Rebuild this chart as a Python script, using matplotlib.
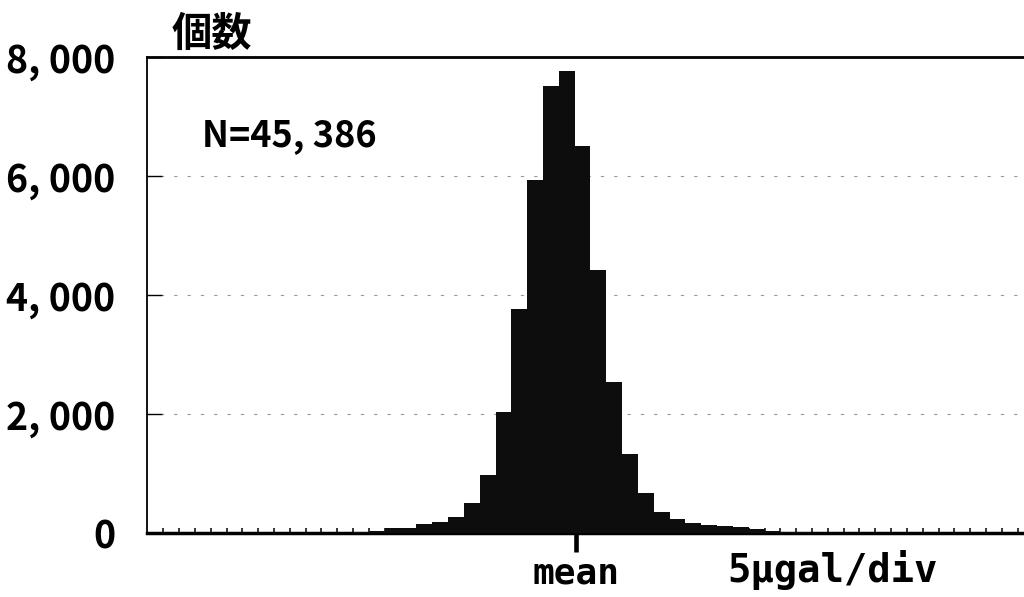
import numpy as np
import matplotlib
matplotlib.use("Agg")
import matplotlib.pyplot as plt

plt.rcParams['font.family'] = ['Noto Sans CJK JP', 'DejaVu Sans']
plt.rcParams['font.weight'] = 'bold'

# histogram of residuals, 5 ugal per bin, bin index counted from left edge of axis
first_bin = 13
counts = [20, 35, 85, 90, 150, 180, 265, 510, 970, 2030, 3760, 5930,
          7520, 7760, 6500, 4420, 2530, 1330, 670, 360, 230, 170, 135,
          120, 95, 60, 40, 25, 15]
n_total = 45386
mean_pos = 27.09
n_div = 55.4

y_ticks = [0, 2000, 4000, 6000, 8000]
y_labels = ["0", "2, 000", "4, 000", "6, 000", "8, 000"]

fig = plt.figure(figsize=(10.24, 5.97), dpi=100)
ax = fig.add_axes([0.144, 0.1072, 0.856, 0.7973])

x = first_bin + np.arange(len(counts))
ax.bar(x, counts, width=1.0, align='edge', color='#0d0d0d', linewidth=0, zorder=3)

ax.set_xlim(0, n_div)
ax.set_ylim(0, 8000)

# y axis
ax.set_yticks(y_ticks, labels=y_labels)
ax.tick_params(axis='y', direction='in', length=11, width=1.0, pad=23,
               labelsize=27, colors='black')
ax.yaxis.grid(True, linestyle=(0, (3, 9)), color='#9a9a9a', linewidth=0.8)
ax.set_axisbelow(True)

# x axis: small division ticks plus one long tick at the mean
ax.set_xticks(np.arange(1, int(n_div) + 1), minor=True)
ax.set_xticks([mean_pos], labels=["mean"])
ax.tick_params(axis='x', which='minor', direction='in', length=3.8, width=1.1)
ax.tick_params(axis='x', which='major', direction='out', length=14, width=3.3,
               pad=3, labelsize=26)
for lab in ax.get_xticklabels():
    lab.set_family('DejaVu Sans Mono')

ax.spines['right'].set_visible(False)
ax.spines['left'].set_linewidth(1.3)
ax.spines['top'].set_linewidth(2.0)
ax.spines['bottom'].set_linewidth(2.5)

ax.text(0.062, 0.836, "N=%s" % f"{n_total:,}".replace(",", ", "),
        transform=ax.transAxes, fontsize=26, va='center', ha='left')
ax.text(0.661, -0.078, "5\u03bcgal/div", transform=ax.transAxes, fontsize=28,
        va='center', ha='left', family='DejaVu Sans Mono')
ax.text(0.028, 1.005, "個数", transform=ax.transAxes, fontsize=29,
        fontweight='bold', va='bottom', ha='left')

fig.savefig("out.png", dpi=100)
